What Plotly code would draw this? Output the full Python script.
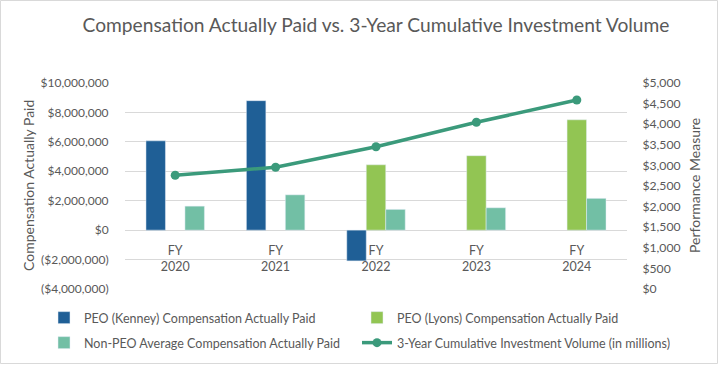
import plotly.graph_objects as go

categories = ["FY<br>2020", "FY<br>2021", "FY<br>2022", "FY<br>2023", "FY<br>2024"]
kenney = [6070000, 8800000, -2090000, None, None]
lyons = [None, None, 4440000, 5060000, 7500000]
non_peo = [1630000, 2400000, 1410000, 1520000, 2160000]
investment_volume = [2760, 2954, 3454, 4046, 4587]

left_tickvals = [-4000000, -2000000, 0, 2000000, 4000000, 6000000, 8000000, 10000000]
left_ticktext = ["($4,000,000)", "($2,000,000)", "$0", "$2,000,000", "$4,000,000",
                 "$6,000,000", "$8,000,000", "$10,000,000"]

GREY = "#595959"
FONT = "Lato"

fig = go.Figure()
fig.add_trace(go.Bar(x=categories, y=kenney, name="PEO (Kenney) Compensation Actually Paid",
                     marker_color="#1F5F96", legend="legend"))
fig.add_trace(go.Bar(x=categories, y=lyons, name="PEO (Lyons) Compensation Actually Paid",
                     marker_color="#92C553", legend="legend"))
fig.add_trace(go.Bar(x=categories, y=non_peo, name="Non-PEO Average Compensation Actually Paid",
                     marker_color="#72BFA5", legend="legend2"))
fig.add_trace(go.Scatter(x=categories, y=investment_volume, yaxis="y2", mode="lines+markers",
                         name="3-Year Cumulative Investment Volume (in millions)",
                         line=dict(color="#3B9A7B", width=3.5),
                         marker=dict(size=9, color="#3B9A7B"), legend="legend2"))

W, H = 719, 365
L, R, T, B = 125, 92, 83, 76
pw, ph = W - L - R, H - T - B

legend_common = dict(orientation="h", x=(44 - L) / pw, xanchor="left", yanchor="middle",
                     entrywidth=268, font=dict(size=12.5, color=GREY),
                     itemwidth=30, bgcolor="rgba(0,0,0,0)")

fig.update_layout(
    width=W, height=H,
    margin=dict(l=L, r=R, t=T, b=B, autoexpand=False),
    paper_bgcolor="white", plot_bgcolor="white",
    font=dict(family=FONT, color=GREY, size=12),
    barmode="group", bargap=0.418, bargroupgap=0,
    title=dict(text="Compensation Actually Paid vs. 3-Year Cumulative Investment Volume",
               x=(376 - L) / pw, xref="paper", xanchor="center", y=1 - 25 / H, yanchor="middle",
               font=dict(size=19.2, color=GREY, family=FONT)),
    xaxis=dict(anchor="free", position=4 / 14, showline=False, showgrid=False,
               ticks="outside", ticklen=9, tickcolor="rgba(0,0,0,0)",
               tickfont=dict(size=12.5, color=GREY)),
    yaxis=dict(range=[-4000000, 10000000], tickvals=left_tickvals, ticktext=left_ticktext,
               showgrid=True, gridcolor="#D9D9D9", gridwidth=1, zeroline=False,
               ticks="outside", ticklen=13, tickcolor="rgba(0,0,0,0)",
               tickfont=dict(size=12, color=GREY)),
    yaxis2=dict(range=[0, 5000], dtick=500, overlaying="y", side="right",
                tickprefix="$", tickformat=",", showgrid=False, zeroline=False,
                ticks="outside", ticklen=12, tickcolor="rgba(0,0,0,0)",
                tickfont=dict(size=12.2, color=GREY)),
    legend=dict(legend_common, y=(H - B - 318) / ph),
    legend2=dict(legend_common, y=(H - B - 343) / ph),
    showlegend=True,
)

# axis titles
fig.add_annotation(text="Compensation Actually Paid", xref="paper", yref="paper",
                   x=(28 - L) / pw, y=0.5, textangle=-90, showarrow=False,
                   xanchor="center", yanchor="middle", font=dict(size=14, color=GREY))
fig.add_annotation(text="Performance Measure", xref="paper", yref="paper",
                   x=(694 - L) / pw, y=0.5, textangle=-90, showarrow=False,
                   xanchor="center", yanchor="middle", font=dict(size=14, color=GREY))

fig.add_shape(type="rect", xref="paper", yref="paper",
              x0=(0.5 - L) / pw, x1=(W - 1.5 - L) / pw,
              y0=(H - B - (H - 1.5)) / ph, y1=(H - B - 0.5) / ph,
              line=dict(color="#D9D9D9", width=1), layer="below")

fig.write_html("out.html", config={"displayModeBar": False},
               post_script="document.body.style.margin='0';document.body.style.overflow='hidden';")
